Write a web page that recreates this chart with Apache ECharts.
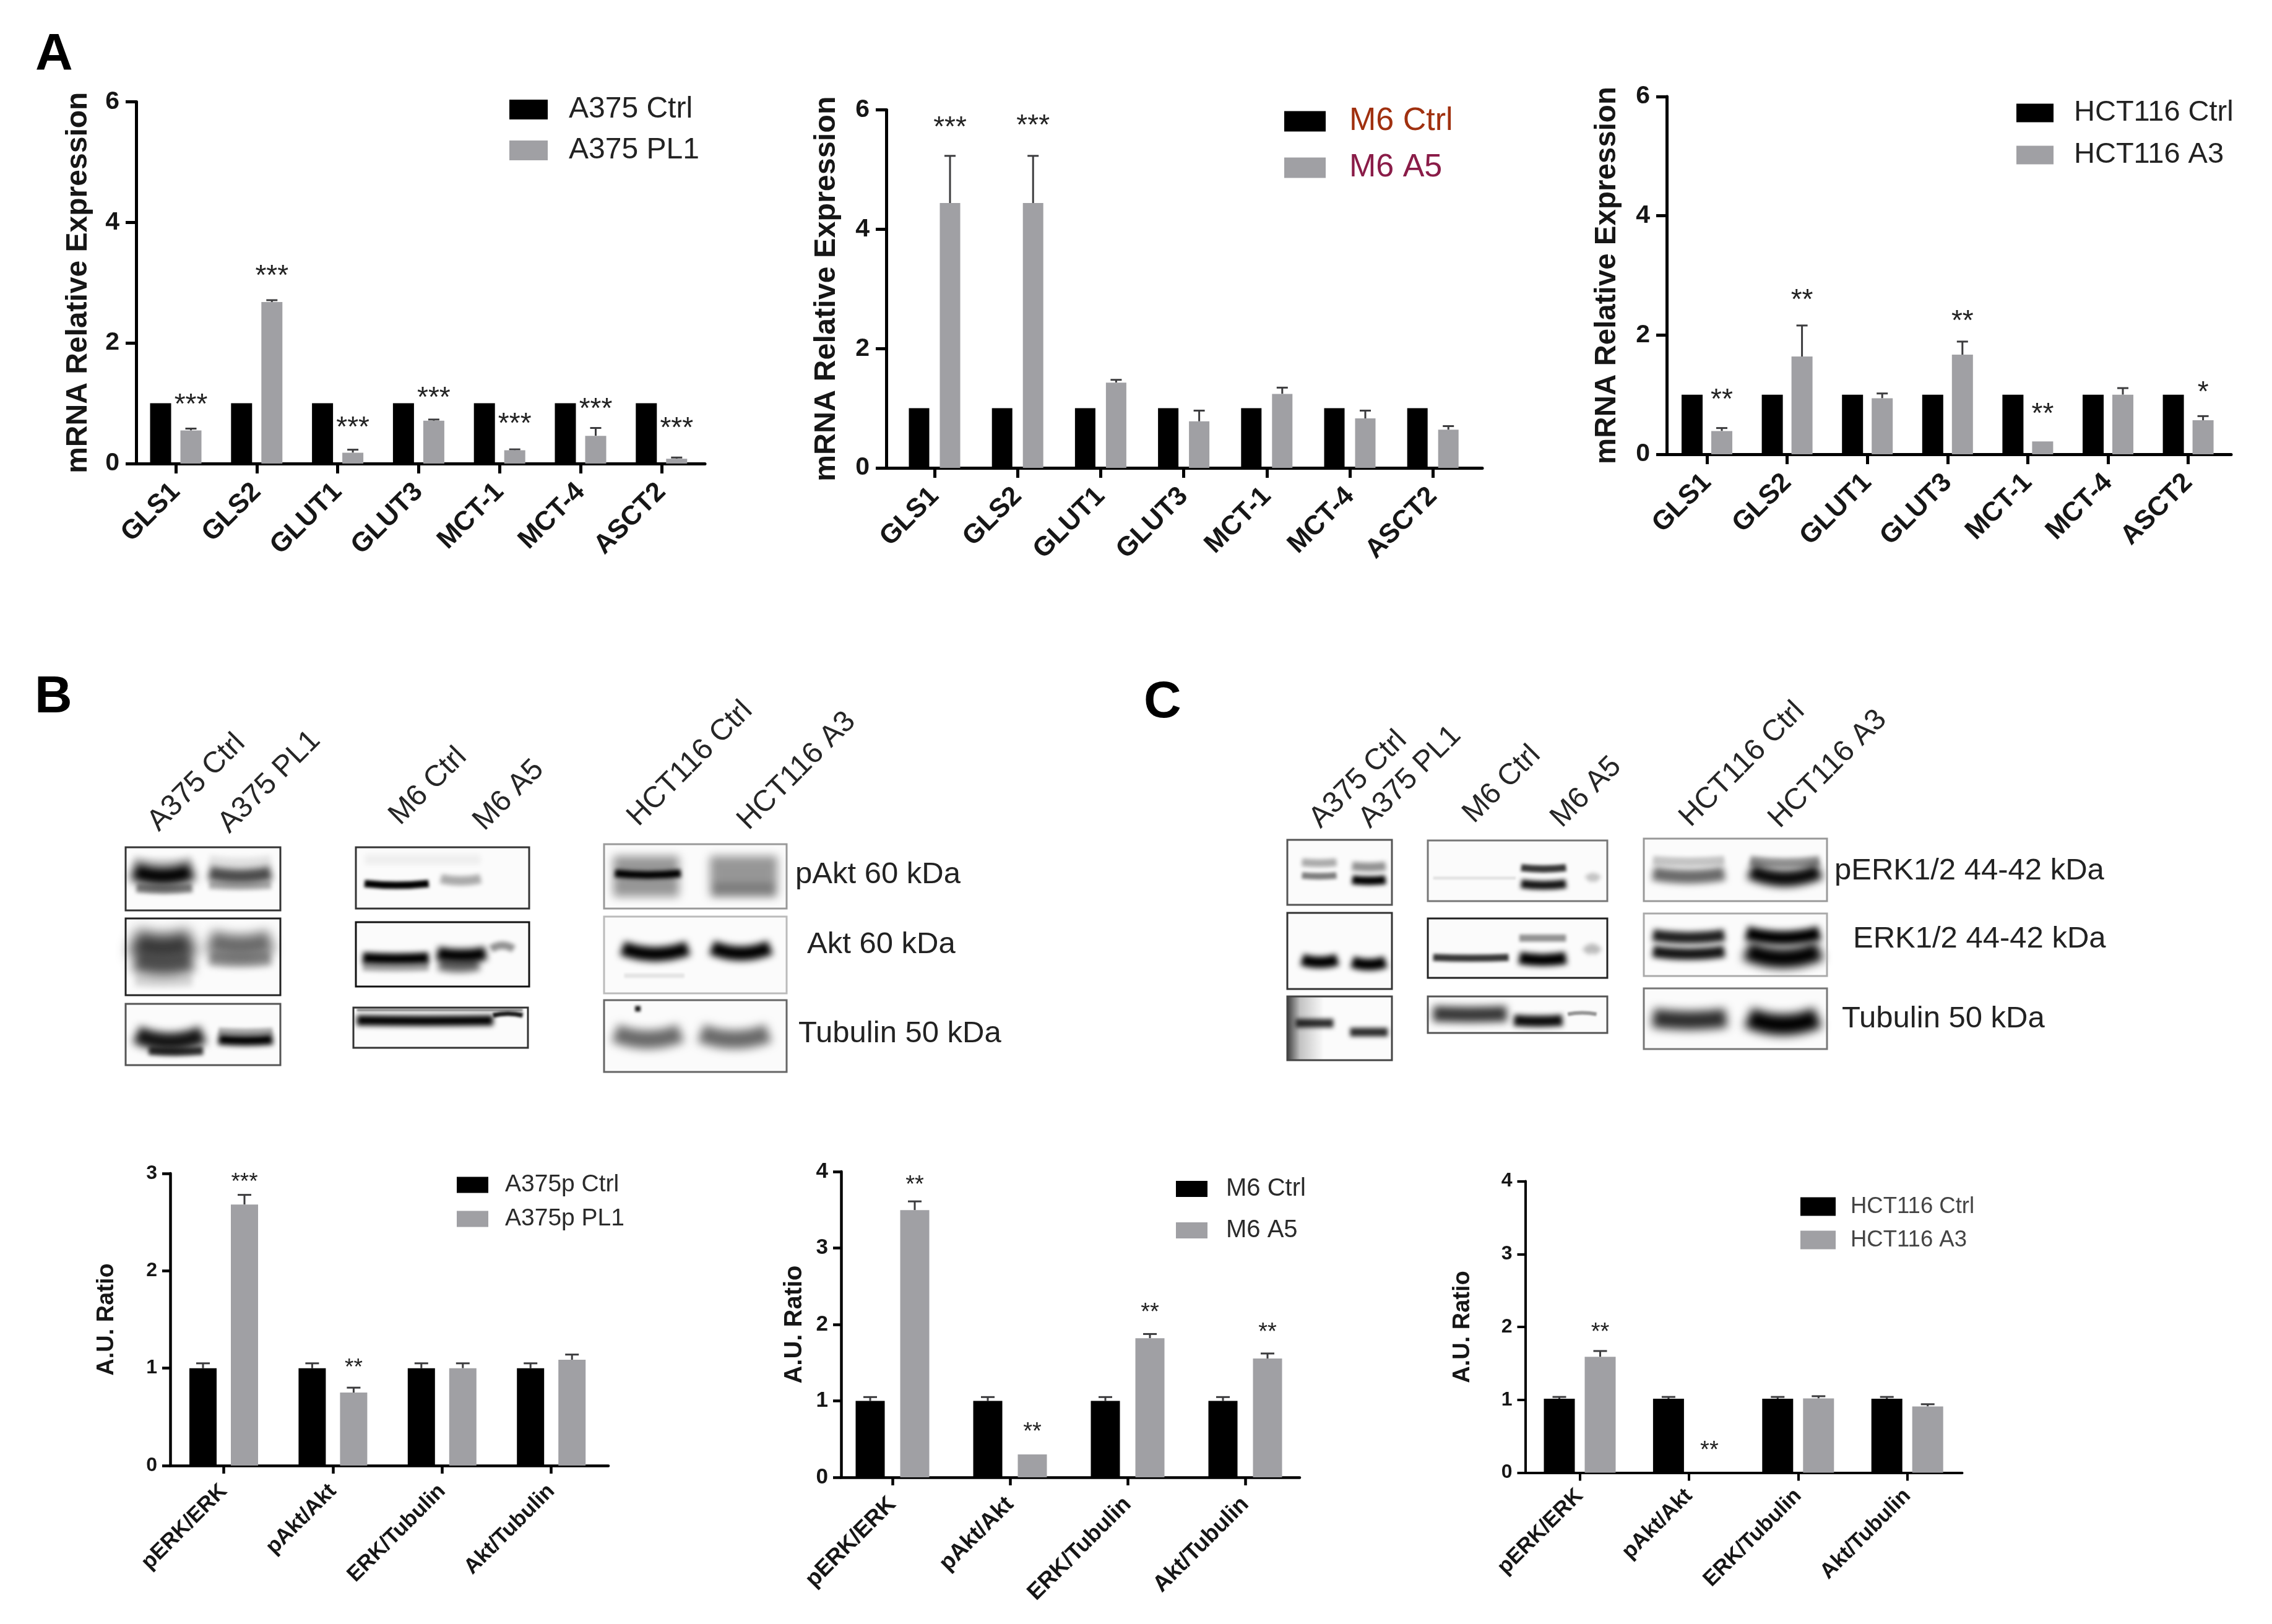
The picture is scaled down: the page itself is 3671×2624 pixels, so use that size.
<!DOCTYPE html>
<html><head><meta charset="utf-8">
<style>html,body{margin:0;padding:0;background:#fff}#c{width:3671px;height:2624px}</style>
<script src="https://cdn.jsdelivr.net/npm/echarts@6/dist/echarts.min.js"></script>
</head><body><div id="c"></div>
<script>
// ---------- data ----------
const geneCategories = ['GLS1','GLS2','GLUT1','GLUT3','MCT-1','MCT-4','ASCT2'];
const ratioCategories = ['pERK/ERK','pAkt/Akt','ERK/Tubulin','Akt/Tubulin'];

const a375Ctrl    = [1,1,1,1,1,1,1];
const a375PL1     = [0.55,2.68,0.18,0.71,0.22,0.46,0.08];
const a375PL1Err  = [0.58,2.71,0.23,0.73,0.235,0.59,0.10];
const a375Sig     = ['***','***','***','***','***','***','***'];
const a375SigY    = [1.06,3.19,0.68,1.165,0.74,0.98,0.67];

const m6Ctrl      = [1,1,1,1,1,1,1];
const m6A5        = [4.44,4.44,1.43,0.78,1.24,0.83,0.64];
const m6A5Err     = [5.23,5.23,1.476,0.96,1.345,0.96,0.70];
const m6Sig       = ['***','***','','','','',''];
const m6SigY      = [5.79,5.82,null,null,null,null,null];

const hctCtrl     = [1,1,1,1,1,1,1];
const hctA3       = [0.39,1.64,0.94,1.67,0.215,1.0,0.57];
const hctA3Err    = [0.44,2.16,1.02,1.89,null,1.11,0.64];
const hctSig      = ['**','**','','**','**','','*'];
const hctSigY     = [1.0,2.67,null,2.31,0.76,null,1.12];

const a375pCtrl    = [1,1,1,1];
const a375pCtrlErr = [1.05,1.05,1.05,1.05];
const a375pPL1     = [2.68,0.75,1.0,1.087];
const a375pPL1Err  = [2.78,0.80,1.05,1.14];
const a375pSig     = ['***','**','',''];
const a375pSigY    = [2.95,1.045,null,null];

const m6rCtrl      = [1,1,1,1];
const m6rCtrlErr   = [1.05,1.05,1.05,1.05];
const m6rA5        = [3.495,0.30,1.82,1.555];
const m6rA5Err     = [3.61,null,1.875,1.62];
const m6rSig       = ['**','**','**','**'];
const m6rSigY      = [3.88,0.65,2.215,1.95];

const hctrCtrl     = [1.015,1.015,1.015,1.015];
const hctrCtrlErr  = [1.04,1.04,1.04,1.04];
const hctrA3       = [1.59,0,1.02,0.91];
const hctrA3Err    = [1.67,null,1.05,0.94];
const hctrSig      = ['**','**','',''];
const hctrSigY     = [1.98,0.36,null,null];

const blotLanesB = ['A375 Ctrl','A375 PL1','M6 Ctrl','M6 A5','HCT116 Ctrl','HCT116 A3'];
const blotLanesC = ['A375 Ctrl','A375 PL1','M6 Ctrl','M6 A5','HCT116 Ctrl','HCT116 A3'];
const blotTargetsB = ['pAkt 60 kDa','Akt 60 kDa','Tubulin 50 kDa'];
const blotTargetsC = ['pERK1/2 44-42 kDa','ERK1/2 44-42 kDa','Tubulin 50 kDa'];

// ---------- layout ----------
const FONT = '"Liberation Sans", Arial, sans-serif';
const GRAY = '#a0a0a4';
const INK = '#161616';

const panels = [
 {cats:geneCategories, ctrlName:'A375 Ctrl', testName:'A375 PL1', ctrl:a375Ctrl, test:a375PL1, testErr:a375PL1Err, sig:a375Sig, sigY:a375SigY,
  axisX:220, axisEnd:1139, y0:749, yTop:164.5, tick0:284, step:130.8, max:6, interval:2, bw:34, off:24.5, title:'mRNA Relative Expression', titleX:129, titleFs:48, tickFs:41, catFs:43.5, catMargin:39, starFs:46, lw:5,
  legend:{x:823,y:153,w:62,h:32,fs:48,gap:18,tx:29,c:['#222','#222']}},
 {cats:geneCategories, ctrlName:'M6 Ctrl', testName:'M6 A5', ctrl:m6Ctrl, test:m6A5, testErr:m6A5Err, sig:m6Sig, sigY:m6SigY,
  axisX:1432, axisEnd:2395, y0:756, yTop:177.6, tick0:1510, step:134.2, max:6, interval:2, bw:33, off:25, title:'mRNA Relative Expression', titleX:1338, titleFs:48.5, tickFs:41, catFs:43.5, catMargin:39, starFs:46, lw:5,
  legend:{x:2075,y:170,w:67,h:33,fs:52,gap:23,tx:33,c:['#a0300f','#8a1c48']}},
 {cats:geneCategories, ctrlName:'HCT116 Ctrl', testName:'HCT116 A3', ctrl:hctCtrl, test:hctA3, testErr:hctA3Err, sig:hctSig, sigY:hctSigY,
  axisX:2693, axisEnd:3605, y0:734, yTop:156, tick0:2758, step:129.6, max:6, interval:2, bw:34, off:24, title:'mRNA Relative Expression', titleX:2599, titleFs:47.5, tickFs:41, catFs:43.5, catMargin:39, starFs:46, lw:5,
  legend:{x:3258,y:159,w:60,h:30,fs:47,gap:21,tx:28,c:['#222','#222']}},
 {cats:ratioCategories, ctrlName:'A375p Ctrl', testName:'A375p PL1', ctrl:a375pCtrl, ctrlErr:a375pCtrlErr, test:a375pPL1, testErr:a375pPL1Err, sig:a375pSig, sigY:a375pSigY,
  axisX:275, axisEnd:983, y0:2368, yTop:1896, tick0:361.5, step:176.4, max:3, interval:1, bw:44, off:33.5, title:'A.U. Ratio', titleX:170, titleFs:38, tickFs:32, catFs:35, catMargin:36, starFs:37, lw:4.5,
  legend:{x:738,y:1895,w:51,h:26,fs:39,gap:16,tx:22,c:['#2a2a2a','#2a2a2a']}},
 {cats:ratioCategories, ctrlName:'M6 Ctrl', testName:'M6 A5', ctrl:m6rCtrl, ctrlErr:m6rCtrlErr, test:m6rA5, testErr:m6rA5Err, sig:m6rSig, sigY:m6rSigY,
  axisX:1359, axisEnd:2100, y0:2387, yTop:1893, tick0:1442, step:190, max:4, interval:1, bw:47, off:36, title:'A.U. Ratio', titleX:1282, titleFs:40, tickFs:35, catFs:37, catMargin:38, starFs:38, lw:4.5,
  legend:{x:1900,y:1901,w:51,h:26,fs:40,gap:27,tx:25,c:['#2a2a2a','#2a2a2a']}},
 {cats:ratioCategories, ctrlName:'HCT116 Ctrl', testName:'HCT116 A3', ctrl:hctrCtrl, ctrlErr:hctrCtrlErr, test:hctrA3, testErr:hctrA3Err, sig:hctrSig, sigY:hctrSigY,
  axisX:2464.5, axisEnd:3170.5, y0:2379.6, yTop:1908.5, tick0:2552.5, step:176.4, max:4, interval:1, bw:50, off:33, title:'A.U. Ratio', titleX:2360.6, titleFs:38, tickFs:32, catFs:35, catMargin:32, starFs:38, lw:4,
  legend:{x:2909,y:1931,w:57,h:30,fs:36.5,gap:17,tx:19,c:['#444','#444']}}
];

// blot boxes [x0,y0,x1,y1]; bands [fx0,fx1,fy,fh,alpha,sag,blur], fractions of the box; v = dark left edge
const blots = [
 {b:[203,1369,453,1471],e:'#333',s:[[.05,.43,.46,.34,1,.25],[.07,.43,.67,.16,.5,.15],[.05,.43,.25,.2,.12,.2],[.54,.94,.46,.26,.7,.2],[.54,.94,.62,.14,.3,.15],[.54,.94,.25,.2,.1,.2]]},
 {b:[203,1484,453,1608],e:'#222',s:[[.05,.43,.38,.4,.78,.2],[.06,.43,.62,.3,.62,.2],[.06,.43,.82,.18,.14,.1],[.54,.94,.36,.34,.58,.2],[.54,.94,.55,.2,.42,.15]]},
 {b:[203,1622,453,1721],e:'#555',s:[[.07,.5,.62,.34,.92,.35],[.15,.5,.78,.16,.8,.1],[.6,.95,.6,.2,1,.1],[.6,.95,.46,.14,.3,.1]]},
 {b:[575,1369,855,1468],e:'#333',s:[[.05,.42,.62,.14,1,.2],[.49,.72,.55,.18,.32,.2],[.05,.72,.2,.2,.05,0]]},
 {b:[575,1490,855,1594],e:'#111',s:[[.04,.42,.57,.2,1,.08],[.04,.42,.7,.16,.35,.08],[.47,.75,.52,.24,1,.15],[.48,.71,.68,.24,.6,.15],[.78,.91,.36,.14,.42,-.4]]},
 {b:[571,1628,853,1693],e:'#333',s:[[.02,.8,.33,.3,1,.04],[.8,.97,.15,.14,.9,-.3],[.02,.97,.06,.07,.5,0]]},
 {b:[976,1364,1271,1468],e:'#999',s:[[.05,.41,.5,.75,.4,0,14],[.58,.95,.5,.75,.4,0,14],[.06,.42,.48,.14,1,.2],[.6,.93,.7,.24,.16,0]]},
 {b:[976,1481,1271,1605],e:'#bbb',s:[[.1,.46,.49,.22,1,.35],[.59,.91,.48,.22,1,.35],[.11,.44,.77,.07,.09,0]]},
 {b:[976,1616,1271,1732],e:'#666',s:[[.06,.42,.55,.3,.58,.3],[.53,.9,.55,.3,.58,.3],[.17,.2,.12,.09,.9,0]]},
 {b:[2080,1357,2249,1462],e:'#555',s:[[.14,.47,.36,.14,.32,.1],[.14,.47,.56,.12,.5,.1],[.62,.94,.42,.16,.42,.1],[.62,.94,.63,.16,1,.1]]},
 {b:[2080,1475,2249,1598],e:'#333',s:[[.14,.48,.65,.18,1,.2],[.62,.94,.68,.18,1,.2]]},
 {b:[2080,1610,2249,1713],e:'#444',v:.75,s:[[.08,.44,.42,.16,.82,0],[.6,.96,.56,.16,.82,0]]},
 {b:[2307,1358,2597,1456],e:'#777',s:[[.52,.77,.47,.14,.78,.15],[.52,.77,.74,.17,.92,.15],[.03,.49,.62,.06,.1,0],[.89,.95,.6,.16,.22,-.3]]},
 {b:[2307,1484,2597,1580],e:'#222',s:[[.03,.45,.67,.14,.78,.1],[.51,.77,.7,.24,1,.15],[.51,.77,.33,.14,.42,0],[.88,.95,.5,.18,.26,-.4]]},
 {b:[2307,1610,2597,1669],e:'#555',s:[[.03,.44,.5,.5,.78,.05],[.48,.75,.68,.36,.95,.08],[.78,.94,.45,.12,.42,-.3]]},
 {b:[2656,1355,2952,1456],e:'#999',s:[[.05,.44,.61,.26,.58,.2],[.05,.44,.37,.16,.22,.15],[.58,.96,.64,.3,.97,.4],[.58,.96,.39,.18,.42,.2]]},
 {b:[2656,1476,2952,1577],e:'#aaa',s:[[.05,.44,.39,.22,.88,.2],[.05,.44,.65,.22,.92,.2],[.56,.96,.39,.26,1,.3],[.56,.96,.72,.36,1,.35]]},
 {b:[2656,1597,2952,1695],e:'#777',s:[[.05,.45,.53,.36,.82,.12],[.57,.95,.6,.4,1,.3]]}
];
const laneAnchors = [[264,1352],[378,1355],[654,1342],[790,1351],[1039,1344],[1217,1350],
                     [2141,1347],[2221,1347],[2389,1339],[2531,1346],[2739,1345],[2883,1347]];
const targetAnchors = [[1285,1413],[1304,1526],[1290,1670],[2964,1407],[2994,1517],[2976,1646]];
const letters = [['A',57,90],['B',56,1128],['C',1848,1136]];

// ---------- build ----------
const grid=[],xAxis=[],yAxis=[],series=[],legend=[],graphic=[];

function errRender(off,cap,lw){return function(p,api){
  const t=api.coord([api.value(0),api.value(1)]),b=api.coord([api.value(0),api.value(2)]),x=t[0]+off;
  const st={stroke:'#3c3c3e',lineWidth:lw};
  return {type:'group',children:[
    {type:'line',shape:{x1:x,y1:b[1],x2:x,y2:t[1]},style:st},
    {type:'line',shape:{x1:x-cap,y1:t[1],x2:x+cap,y2:t[1]},style:st}]};
};}
function starRender(off,fs,texts){return function(p,api){
  const c=api.coord([api.value(0),api.value(1)]);
  return {type:'text',x:c[0]+off,y:c[1]+fs*.2,style:{text:texts[p.dataIndex],font:fs+'px '+FONT,fill:'#222',align:'center',verticalAlign:'middle'}};
};}

panels.forEach((P,k)=>{
  const fi=2*k, di=2*k+1, h=P.y0-P.yTop, n=P.cats.length;
  grid.push({left:P.axisX,top:P.yTop,width:P.axisEnd-P.axisX,height:h,containLabel:false});
  xAxis.push({gridIndex:fi,type:'value',min:0,max:1,axisLine:{show:true,onZero:false,lineStyle:{color:'#000',width:P.lw}},axisTick:{show:false},axisLabel:{show:false},splitLine:{show:false}});
  yAxis.push({gridIndex:fi,type:'value',min:0,max:P.max,interval:P.interval,
    axisLine:{show:true,onZero:false,lineStyle:{color:'#000',width:P.lw}},axisTick:{show:true,length:P.lw>4.6?17:13,lineStyle:{color:'#000',width:P.lw}},
    axisLabel:{fontFamily:FONT,fontWeight:'bold',fontSize:P.tickFs,color:INK,margin:P.lw>4.6?27:21},splitLine:{show:false},
    name:P.title,nameLocation:'middle',nameRotate:90,nameGap:P.axisX-P.titleX-22,nameTextStyle:{fontFamily:FONT,fontWeight:'bold',fontSize:P.titleFs,color:INK}});
  const dl=P.tick0-P.step/2;
  grid.push({left:dl,top:P.yTop,width:P.step*n,height:h,containLabel:false});
  xAxis.push({gridIndex:di,type:'category',data:P.cats,axisLine:{show:false},
    axisTick:{show:true,alignWithLabel:true,length:P.lw>4.6?16:13,lineStyle:{color:'#000',width:P.lw}},
    axisLabel:{rotate:45,interval:0,fontFamily:FONT,fontWeight:'bold',fontSize:P.catFs,color:INK,margin:P.catMargin}});
  yAxis.push({gridIndex:di,type:'value',min:0,max:P.max,show:false,splitLine:{show:false}});
  const gap=2*P.off-P.bw;
  series.push({name:P.ctrlName,type:'bar',xAxisIndex:di,yAxisIndex:di,data:P.ctrl,barWidth:P.bw,barGap:(gap/P.bw*100)+'%',itemStyle:{color:'#000'},z:2,animation:false});
  series.push({name:P.testName,type:'bar',xAxisIndex:di,yAxisIndex:di,data:P.test,barWidth:P.bw,barGap:(gap/P.bw*100)+'%',itemStyle:{color:GRAY},z:2,animation:false});
  const cap=P.lw>4.6?9:11;
  const errData=(tops,vals)=>tops.map((t,i)=>t==null?null:[i,t,vals[i]]).filter(Boolean);
  series.push({type:'custom',xAxisIndex:di,yAxisIndex:di,data:errData(P.testErr,P.test),renderItem:errRender(P.off,cap,3),encode:{x:0,y:1},clip:false,z:1,animation:false,silent:true});
  if(P.ctrlErr) series.push({type:'custom',xAxisIndex:di,yAxisIndex:di,data:errData(P.ctrlErr,P.ctrl),renderItem:errRender(-P.off,cap,3),encode:{x:0,y:1},clip:false,z:1,animation:false,silent:true});
  const sd=P.sigY.map((y,i)=>y==null?null:[i,y]).filter(Boolean);
  const st=P.sig.filter((s,i)=>P.sigY[i]!=null);
  series.push({type:'custom',xAxisIndex:di,yAxisIndex:di,data:sd,renderItem:starRender(P.off,P.starFs,st),encode:{x:0,y:1},clip:false,z:3,animation:false,silent:true});
  const L=P.legend;
  legend.push({orient:'vertical',left:L.x,top:L.y,padding:0,itemWidth:L.w,itemHeight:L.h,itemGap:L.gap,icon:'rect',selectedMode:false,
    align:'left',inactiveColor:GRAY,
    textStyle:{fontFamily:FONT,fontSize:L.fs,padding:[0,0,0,L.tx]},
    data:[{name:P.ctrlName,textStyle:{color:L.c[0]}},{name:P.testName,textStyle:{color:L.c[1]}}]});
});

// western blots: soft bands are the blurred shadows of curved strokes drawn off-canvas
const OFF=6000;
blots.forEach(B=>{
  const [x0,y0,x1,y1]=B.b,w=x1-x0,h=y1-y0;
  graphic.push({type:'rect',silent:true,shape:{x:x0,y:y0,width:w,height:h},style:{fill:'#fbfbfb',stroke:null},z:5});
  if(B.v) graphic.push({type:'rect',silent:true,z:6,shape:{x:x0,y:y0,width:w*.35,height:h},
    style:{fill:{type:'linear',x:0,y:0,x2:1,y2:0,colorStops:[{offset:0,color:'rgba(0,0,0,'+B.v+')'},{offset:.35,color:'rgba(0,0,0,'+(B.v*.3)+')'},{offset:1,color:'rgba(0,0,0,0)'}]}}});
  B.s.forEach(s=>{
    const [a,b,c,d,al,sag,blur]=s;
    const bx=x0+a*w,bw=(b-a)*w,bh=d*h,by=y0+c*h,sg=(sag||0)*bh;
    graphic.push({type:'bezierCurve',silent:true,z:6,
      shape:{x1:bx-OFF,y1:by-sg,x2:bx+bw-OFF,y2:by-sg,cpx1:bx+bw/2-OFF,cpy1:by+sg},
      style:{fill:null,stroke:'#000',lineWidth:Math.max(2,bh*.85),lineCap:'butt',
        shadowBlur:blur||Math.max(3,bh*.42),shadowColor:'rgba(0,0,0,'+al+')',shadowOffsetX:OFF,shadowOffsetY:0}});
  });
  graphic.push({type:'rect',silent:true,shape:{x:x0,y:y0,width:w,height:h},style:{fill:null,stroke:B.e,lineWidth:3},z:7});
});
const laneNames=blotLanesB.concat(blotLanesC);
laneNames.forEach((t,i)=>graphic.push({type:'text',silent:true,z:7,x:laneAnchors[i][0],y:laneAnchors[i][1],rotation:Math.PI/4,
  style:{text:t,font:'48px '+FONT,fill:'#262626',align:'left',verticalAlign:'bottom',textAlign:'left',textVerticalAlign:'bottom'}}));
blotTargetsB.concat(blotTargetsC).forEach((t,i)=>graphic.push({type:'text',silent:true,z:7,x:targetAnchors[i][0],y:targetAnchors[i][1],
  style:{text:t,font:'49px '+FONT,fill:'#222',align:'left',verticalAlign:'middle',textAlign:'left',textVerticalAlign:'middle'}}));
letters.forEach(l=>graphic.push({type:'text',silent:true,z:7,x:l[1],y:l[2],
  style:{text:l[0],font:'bold 84px '+FONT,fill:'#000',align:'left',verticalAlign:'middle',textAlign:'left',textVerticalAlign:'middle'}}));

const chart=echarts.init(document.getElementById('c'),null,{renderer:'canvas'});
chart.setOption({animation:false,backgroundColor:'#fff',grid,xAxis,yAxis,series,legend,graphic:{elements:graphic}});
</script></body></html>
